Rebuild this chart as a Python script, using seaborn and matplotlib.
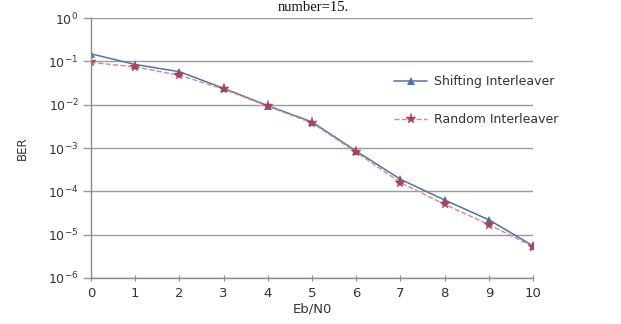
import numpy as np
import pandas as pd
import matplotlib
matplotlib.use('Agg')
import matplotlib.pyplot as plt
import seaborn as sns

ebn0 = [0, 1, 2, 3, 4, 5, 6, 7, 8, 9, 10]
ber_shifting = [0.15, 0.085, 0.058, 0.024, 0.0095, 0.0040, 8.5e-4, 1.9e-4, 6.3e-5, 2.2e-5, 5.5e-6]
ber_random = [0.095, 0.075, 0.048, 0.023, 0.0092, 0.0038, 8.0e-4, 1.6e-4, 5.0e-5, 1.7e-5, 5.3e-6]
ytick_vals = [1e0, 1e-1, 1e-2, 1e-3, 1e-4, 1e-5, 1e-6]

sns.set_theme(style='white')
plt.rcParams['font.family'] = ['DejaVu Sans']

fig = plt.figure(figsize=(6.21, 3.24), dpi=100)
ax = fig.add_axes([0.1465, 0.142, 0.712, 0.802])

df_s = pd.DataFrame({'Eb/N0': ebn0, 'BER': ber_shifting})
df_r = pd.DataFrame({'Eb/N0': ebn0, 'BER': ber_random})

sns.lineplot(data=df_s, x='Eb/N0', y='BER', ax=ax, color='#4F74A8', linewidth=1.1,
             marker='^', markersize=6, markeredgewidth=0, label='Shifting Interleaver')
sns.lineplot(data=df_r, x='Eb/N0', y='BER', ax=ax, color='#D9868A', linewidth=1.0,
             linestyle='--', marker='*', markersize=8, markerfacecolor='#B0405A',
             markeredgecolor='#B0405A', markeredgewidth=0.3, label='Random Interleaver')

ax.set_yscale('log')
ax.set_ylim(1e-6, 1e0)
ax.set_yticks(ytick_vals)
ax.set_xlim(0, 10)
ax.set_xticks(ebn0)
ax.minorticks_off()
ax.yaxis.grid(True, color='#9A9A9A', linewidth=1.0)
ax.xaxis.grid(False)
for s in ['top', 'right']:
    ax.spines[s].set_visible(False)
for s in ['left', 'bottom']:
    ax.spines[s].set_color('#8C8C8C')
    ax.spines[s].set_linewidth(1.0)
ax.tick_params(axis='y', which='major', left=True, length=6, width=1.0, color='#9A9A9A',
               labelsize=9, labelcolor='#333333', pad=3)
ax.tick_params(axis='x', which='major', bottom=True, direction='inout', length=5, width=0.8,
               color='#8C8C8C', labelsize=9.5, labelcolor='#333333', pad=4)
ax.set_xlabel('Eb/N0', fontsize=9.5, color='#333333', labelpad=2)
ax.set_ylabel('BER', fontsize=8.5, color='#333333', labelpad=14)

leg = ax.legend(loc='upper left', bbox_to_anchor=(0.675, 0.80), frameon=False,
                fontsize=9, labelspacing=2.0, handlelength=2.6, handletextpad=0.6,
                borderaxespad=0)
for t in leg.get_texts():
    t.set_color('#333333')

fig.text(0.505, 0.997, 'number=15.', family='Liberation Serif', fontsize=10.5,
         ha='center', va='top', color='#111111')

fig.savefig('out.png', dpi=100)
